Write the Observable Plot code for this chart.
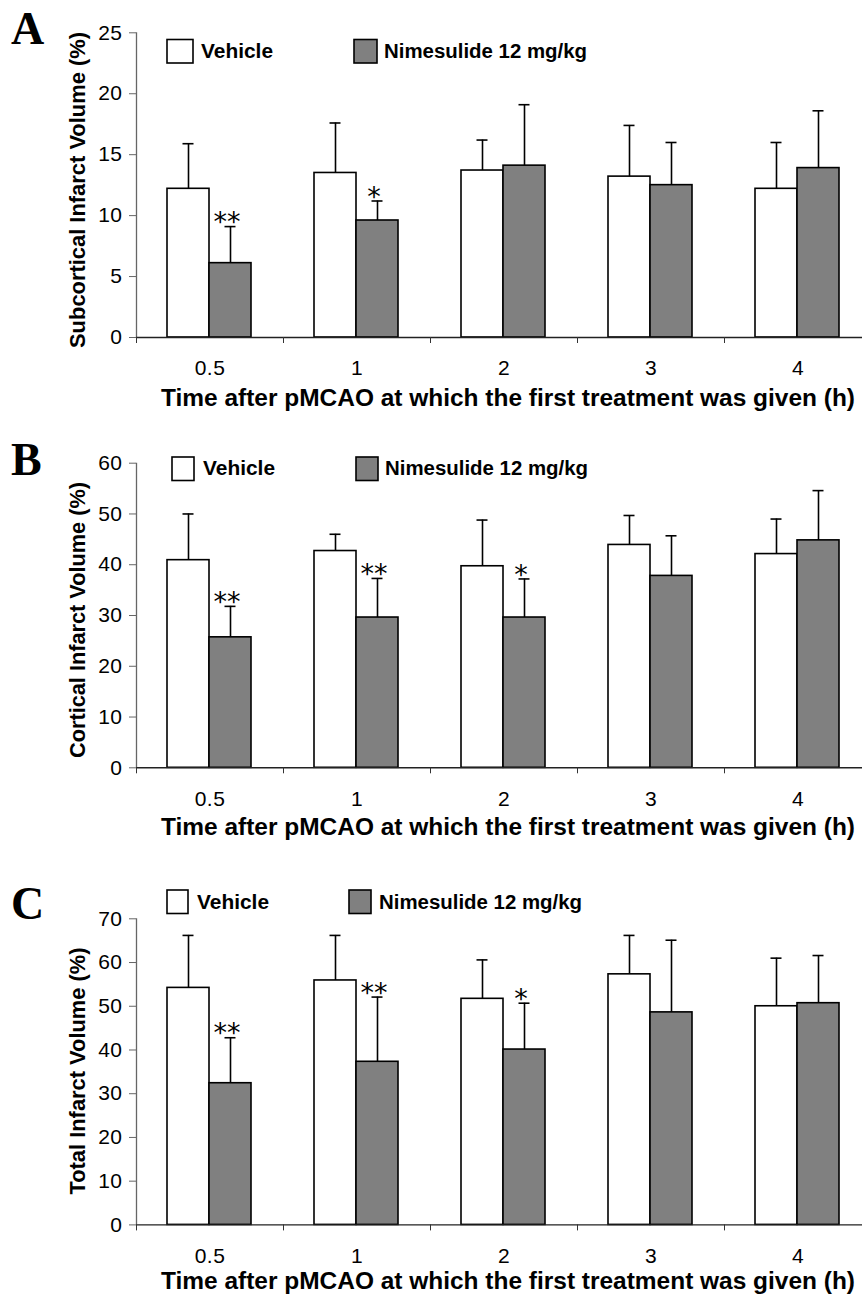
<!DOCTYPE html>
<html>
<head>
<meta charset="utf-8">
<script src="https://cdn.jsdelivr.net/npm/d3@7"></script>
<script src="https://cdn.jsdelivr.net/npm/@observablehq/plot@0.6"></script>
<style>
html, body { margin: 0; padding: 0; background: #fff; }
#root { position: relative; width: 862px; height: 1294px; overflow: hidden; background: #fff; }
.panel { position: absolute; left: 0; }
.panel svg { overflow: hidden; }
#overlay { position: absolute; left: 0; top: 0; pointer-events: none; }
.panel g[aria-label="y-axis tick label"] text { letter-spacing: 0.5px; font-size: 21px; }
.panel g[aria-label="x-axis tick label"] text { letter-spacing: 0.5px; font-size: 21px; }
</style>
</head>
<body>
<div id="root"></div>
<script>
// ---------- data ----------
const categories = ["0.5", "1", "2", "3", "4"];
const seriesNames = ["Vehicle", "Nimesulide 12 mg/kg"];
const xTitle = "Time after pMCAO at which the first treatment was given (h)";

// Panel A: subcortical infarct volume (%)
const subVehicle = [12.2, 13.5, 13.7, 13.2, 12.2];
const subVehicleUpper = [15.9, 17.6, 16.2, 17.4, 16.0];
const subNimesulide = [6.1, 9.6, 14.1, 12.5, 13.9];
const subNimesulideUpper = [9.1, 11.2, 19.1, 16.0, 18.6];
const subSignif = ["**", "*", "", "", ""];
const subTicks = [0, 5, 10, 15, 20, 25];

// Panel B: cortical infarct volume (%)
const corVehicle = [40.9, 42.7, 39.7, 43.9, 42.1];
const corVehicleUpper = [50.0, 46.0, 48.8, 49.7, 49.0];
const corNimesulide = [25.7, 29.6, 29.6, 37.8, 44.8];
const corNimesulideUpper = [31.8, 37.3, 37.2, 45.7, 54.6];
const corSignif = ["**", "**", "*", "", ""];
const corTicks = [0, 10, 20, 30, 40, 50, 60];

// Panel C: total infarct volume (%)
const totVehicle = [54.2, 55.9, 51.7, 57.3, 50.0];
const totVehicleUpper = [66.2, 66.2, 60.6, 66.2, 61.0];
const totNimesulide = [32.4, 37.3, 40.1, 48.6, 50.7];
const totNimesulideUpper = [42.8, 52.1, 50.7, 65.1, 61.6];
const totSignif = ["**", "**", "*", "", ""];
const totTicks = [0, 10, 20, 30, 40, 50, 60, 70];

// ---------- layout ----------
const W = 862;
const SANS = "'Liberation Sans', Arial, Helvetica, sans-serif";
const panels = [
  {letter: "A", yTitle: "Subcortical Infarct Volume (%)", veh: subVehicle, vehUp: subVehicleUpper,
   nim: subNimesulide, nimUp: subNimesulideUpper, sig: subSignif, ticks: subTicks,
   top: 0, height: 415, mt: 32.3, mb: 78,
   letterBase: 44, titleBase: 406, yTitleC: 190, yTitleLen: 316,
   leg: {base: 58.3, boxY: 39.5, boxH: 23.5, vx: 167, vw: 26, vt: 201, nx: 354, nw: 23, nt: 384}},
  {letter: "B", yTitle: "Cortical Infarct Volume (%)", veh: corVehicle, vehUp: corVehicleUpper,
   nim: corNimesulide, nimUp: corNimesulideUpper, sig: corSignif, ticks: corTicks,
   top: 415, height: 430, mt: 47.7, mb: 77.7,
   letterBase: 475, titleBase: 835, yTitleC: 620, yTitleLen: 276,
   leg: {base: 475, boxY: 457, boxH: 23.5, vx: 172, vw: 22, vt: 203, nx: 356, nw: 22, nt: 385}},
  {letter: "C", yTitle: "Total Infarct Volume (%)", veh: totVehicle, vehUp: totVehicleUpper,
   nim: totNimesulide, nimUp: totNimesulideUpper, sig: totSignif, ticks: totTicks,
   top: 845, height: 449, mt: 73.3, mb: 69.6,
   letterBase: 919, titleBase: 1288.5, yTitleC: 1071, yTitleLen: 247,
   leg: {base: 909, boxY: 890, boxH: 23.5, vx: 167, vw: 21, vt: 197, nx: 349, nw: 22, nt: 379}}
];

const root = document.getElementById("root");
const BAND = 147;

for (const p of panels) {
  const rows = categories.map((c, i) => ({
    cat: c, veh: p.veh[i], vehUp: p.vehUp[i], nim: p.nim[i], nimUp: p.nimUp[i], sig: p.sig[i]
  }));
  const ymax = p.ticks[p.ticks.length - 1];
  const chart = Plot.plot({
    width: W,
    height: p.height,
    marginLeft: 136,
    marginRight: 0,
    marginTop: p.mt,
    marginBottom: p.mb,
    style: {fontFamily: SANS, fontSize: "21px", color: "black", background: "white", overflow: "hidden"},
    x: {domain: categories, range: [136, 136 + BAND * categories.length], padding: 0},
    y: {domain: [0, ymax]},
    marks: [
      Plot.barY(rows, {x: "cat", y: "veh", fill: "white", stroke: "black", strokeWidth: 1.6, insetLeft: 31, insetRight: 74}),
      Plot.barY(rows, {x: "cat", y: "nim", fill: "#808080", stroke: "black", strokeWidth: 1.6, insetLeft: 73, insetRight: 32}),
      Plot.ruleX(rows, {x: "cat", y1: "veh", y2: "vehUp", dx: -21.5, stroke: "black", strokeWidth: 1.6}),
      Plot.ruleX(rows, {x: "cat", y1: "nim", y2: "nimUp", dx: 20.5, stroke: "black", strokeWidth: 1.6}),
      Plot.tickY(rows, {x: "cat", y: "vehUp", insetLeft: 46.5, insetRight: 89.5, stroke: "black", strokeWidth: 1.6}),
      Plot.tickY(rows, {x: "cat", y: "nimUp", insetLeft: 88.5, insetRight: 47.5, stroke: "black", strokeWidth: 1.6}),
      Plot.text(rows.filter(d => d.sig), {x: "cat", y: "nimUp", text: "sig", dx: 17, dy: -4,
        fontFamily: "'DejaVu Sans', sans-serif", fontSize: 27, fill: "black"}),
      // y axis line and ticks
      Plot.ruleX([categories[0]], {x: d => d, y1: 0, y2: ymax, dx: -BAND / 2, stroke: "#666", strokeWidth: 1.3}),
      Plot.axisY({ticks: p.ticks, tickSize: 7, tickPadding: 7, fontSize: 21, stroke: "#666", fill: "black", label: null, tickFormat: d => d}),
      // x axis line, boundary ticks and labels
      Plot.ruleY([0], {stroke: "#222", strokeWidth: 1.4}),
      Plot.axisX({tickSize: 6, tickFormat: () => "", dx: -BAND / 2, stroke: "#333", label: null}),
      Plot.axisX({tickSize: 0, tickPadding: 23, fontSize: 21, fill: "black", label: null})
    ]
  });
  const div = document.createElement("div");
  div.className = "panel";
  div.style.top = p.top + "px";
  div.appendChild(chart);
  root.appendChild(div);
}

// ---------- overlay texts: panel letters, axis titles, legends ----------
const svg = d3.select(root).append("svg")
  .attr("id", "overlay").attr("width", W).attr("height", 1294);

for (const p of panels) {
  svg.append("text").text(p.letter)
    .attr("x", 11).attr("y", p.letterBase)
    .attr("font-family", "'Liberation Serif', 'Times New Roman', serif")
    .attr("font-weight", "bold").attr("font-size", 46);

  svg.append("text").text(xTitle)
    .attr("x", 161).attr("y", p.titleBase)
    .attr("font-family", SANS).attr("font-weight", "bold").attr("font-size", 23)
    .attr("textLength", 694).attr("lengthAdjust", "spacingAndGlyphs");

  svg.append("text").text(p.yTitle)
    .attr("transform", `translate(85,${p.yTitleC}) rotate(-90)`)
    .attr("text-anchor", "middle")
    .attr("font-family", SANS).attr("font-weight", "bold").attr("font-size", 21.5)
    .attr("textLength", p.yTitleLen).attr("lengthAdjust", "spacingAndGlyphs");

  const L = p.leg;
  svg.append("rect").attr("x", L.vx).attr("y", L.boxY).attr("width", L.vw).attr("height", L.boxH)
    .attr("fill", "white").attr("stroke", "black").attr("stroke-width", 1.6);
  svg.append("text").text(seriesNames[0]).attr("x", L.vt).attr("y", L.base)
    .attr("font-family", SANS).attr("font-weight", "bold").attr("font-size", 20)
    .attr("textLength", 72).attr("lengthAdjust", "spacingAndGlyphs");
  svg.append("rect").attr("x", L.nx).attr("y", L.boxY).attr("width", L.nw).attr("height", L.boxH)
    .attr("fill", "#808080").attr("stroke", "black").attr("stroke-width", 1.6);
  svg.append("text").text(seriesNames[1]).attr("x", L.nt).attr("y", L.base)
    .attr("font-family", SANS).attr("font-weight", "bold").attr("font-size", 20)
    .attr("textLength", 203).attr("lengthAdjust", "spacingAndGlyphs");
}
</script>
</body>
</html>
